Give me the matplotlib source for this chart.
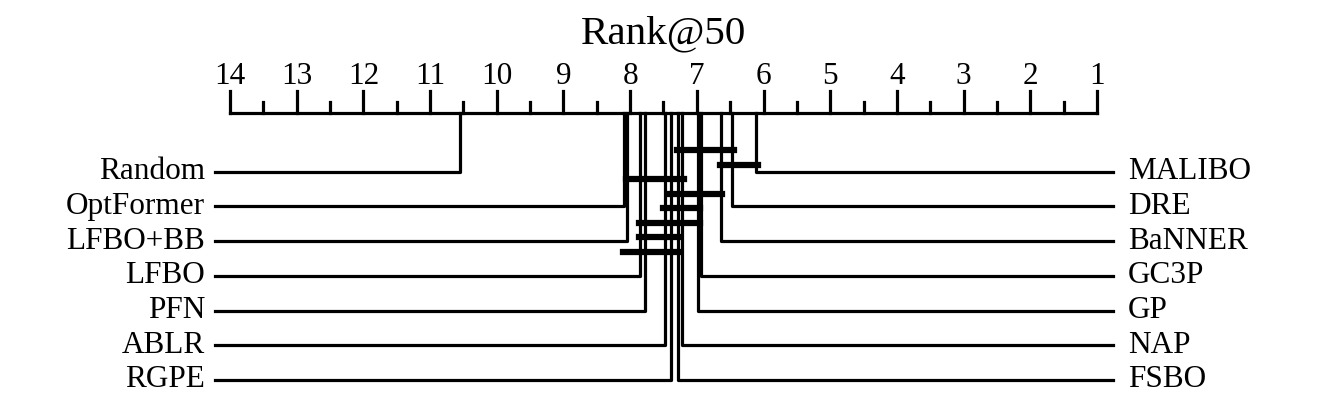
import matplotlib
matplotlib.use("Agg")
import matplotlib.pyplot as plt

plt.rcParams.update({"font.family": ["Liberation Serif", "DejaVu Serif"]})

# average ranks (worst -> best)
methods = ["Random", "OptFormer", "LFBO+BB", "LFBO", "PFN", "ABLR", "RGPE",
           "FSBO", "NAP", "GP", "GC3P", "BaNNER", "DRE", "MALIBO"]
ranks = [10.55, 8.09, 8.04, 7.85, 7.77, 7.48, 7.39,
         7.28, 7.22, 6.98, 6.94, 6.64, 6.47, 6.11]
# groups with no significant difference (first, last index in sorted order)
cliques = [(7, 12), (11, 13), (2, 8), (6, 11), (5, 9), (3, 9), (3, 7), (1, 7)]
title = "Rank@50"
lowv, highv = 1, 14

fig = plt.figure(figsize=(13.29, 4.09), dpi=100)
ax = fig.add_axes([0, 0, 1, 1])
ax.set_xlim(17.449, -2.479)
ax.set_ylim(409, 0)
ax.axis("off")

lw = 2.3
axis_y = 113
k = len(methods)
half = (k + 1) // 2
row_y0, row_dy = 171.7, 34.7
left_end, right_end = 14.225, 0.76

# axis with ticks
ax.plot([highv, lowv], [axis_y, axis_y], color="black", lw=lw, solid_capstyle="projecting")
for v in range(lowv, highv + 1):
    ax.plot([v, v], [axis_y, 91], color="black", lw=lw)
    ax.text(v, 84, str(v), ha="center", va="baseline", fontsize=22.5)
for v in range(lowv, highv):
    ax.plot([v + 0.5, v + 0.5], [axis_y, 102], color="black", lw=lw)
ax.text((lowv + highv) / 2, 43, title, ha="center", va="baseline", fontsize=29.5)

# methods, worse half on the left
for i in range(half):
    y = row_y0 + i * row_dy
    ax.plot([ranks[i], ranks[i], left_end], [axis_y, y, y], color="black", lw=lw)
    ax.text(14.375, y, methods[i], ha="right", va="center", fontsize=22.5)
for i in range(half, k):
    y = row_y0 + (k - i - 1) * row_dy
    ax.plot([ranks[i], ranks[i], right_end], [axis_y, y, y], color="black", lw=lw)
    ax.text(0.535, y, methods[i], ha="left", va="center", fontsize=22.5)

# clique bars
side = 0.02
for j, (a, b) in enumerate(cliques):
    y = 150 + j * 14.5
    ax.plot([ranks[a] + side, ranks[b] - side], [y, y], color="black", lw=4.5)

fig.savefig("out.png", dpi=100, facecolor="white")
